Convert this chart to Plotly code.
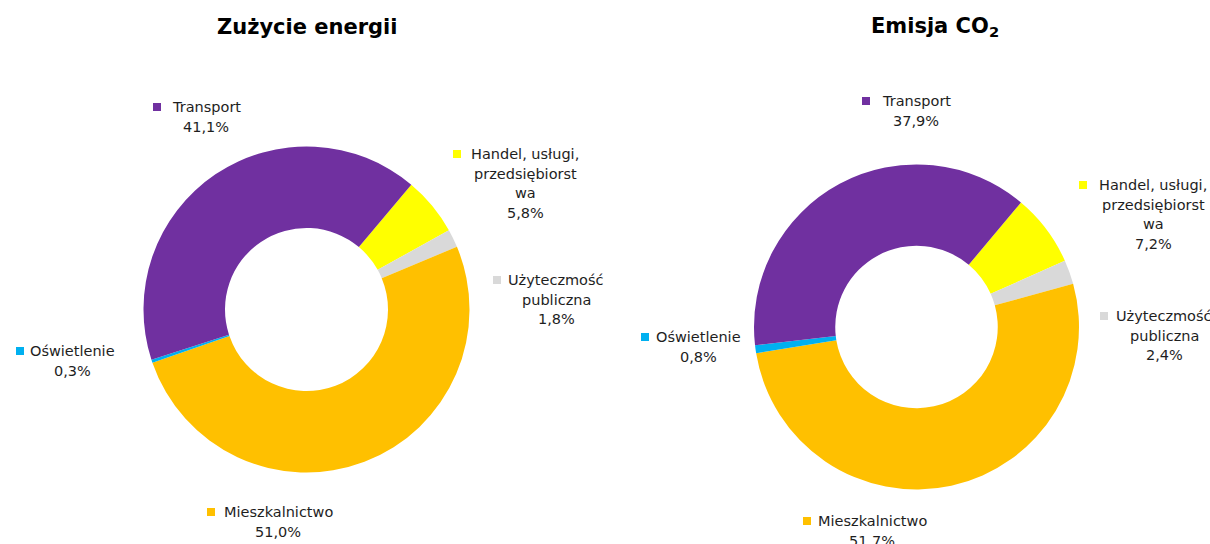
import plotly.graph_objects as go

W, H = 1210, 544

# ---- data ----
categories = ["Handel, usługi, przedsiębiorstwa", "Użyteczność publiczna",
              "Mieszkalnictwo", "Oświetlenie", "Transport"]
energy = [5.8, 1.8, 51.0, 0.3, 41.1]
co2 = [7.2, 2.4, 51.7, 0.8, 37.9]
colors = ["#FFFF00", "#D9D9D9", "#FFC000", "#00B0F0", "#7030A0"]
label_lines = [["Handel, usługi,", "przedsiębiorst", "wa"],
               ["Użyteczmość", "publiczna"],
               ["Mieszkalnictwo"],
               ["Oświetlenie"],
               ["Transport"]]
titles = ["Zużycie energii", "Emisja CO<sub>2</sub>"]

# ---- layout (pixels) ----
pies = [
    dict(values=energy, cx=306.5, cy=309.5, r=163, title_xy=(308, 27),
         text_pos=[(525, 154), (556, 280), (278, 512), (72, 351), (206, 107)],
         key_x=[457, 497, 211, 20, 157]),
    dict(values=co2, cx=916.5, cy=327, r=162.5, title_xy=(935, 27),
         text_pos=[(1153, 185), (1164, 316), (872, 521), (698, 337), (916, 101)],
         key_x=[1083, 1104, 807, 645, 866]),
]
LINE_H = 19.6
FONT = "DejaVu Sans"


def px(x):
    return x / W


def py(y):
    return 1 - y / H


fig = go.Figure()
annotations = []
shapes = []
for i, p in enumerate(pies):
    fig.add_trace(go.Pie(
        labels=categories, values=p["values"], sort=False,
        direction="clockwise", rotation=40, hole=0.5,
        marker=dict(colors=colors, line=dict(width=0)),
        textinfo="none", hoverinfo="label+percent", showlegend=False,
        domain=dict(x=[px(p["cx"] - p["r"]), px(p["cx"] + p["r"])],
                    y=[py(p["cy"] + p["r"]), py(p["cy"] - p["r"])]),
    ))
    tx, ty = p["title_xy"]
    annotations.append(dict(text=f"<b>{titles[i]}</b>", x=px(tx), y=py(ty),
                            xref="paper", yref="paper", xanchor="center",
                            yanchor="middle", showarrow=False,
                            font=dict(family=FONT, size=21, color="#000000")))
    for j, lines in enumerate(label_lines):
        pct = f"{p['values'][j]:.1f}".replace(".", ",") + "%"
        all_lines = lines + [pct]
        cx, cy = p["text_pos"][j]
        for k, line in enumerate(all_lines):
            annotations.append(dict(text=line, x=px(cx), y=py(cy + k * LINE_H),
                                    xref="paper", yref="paper",
                                    xanchor="center", yanchor="middle",
                                    showarrow=False,
                                    font=dict(family=FONT, size=14.5,
                                              color="#1e1e1e")))
        kx = p["key_x"][j]
        shapes.append(dict(type="rect", xref="paper", yref="paper",
                           x0=px(kx - 4), x1=px(kx + 4),
                           y0=py(cy - 4), y1=py(cy + 4),
                           fillcolor=colors[j], line=dict(width=0)))

fig.update_layout(width=W, height=H, margin=dict(l=0, r=0, t=0, b=0),
                  paper_bgcolor="white", plot_bgcolor="white",
                  annotations=annotations, shapes=shapes)
fig.write_html("out.html",
               config={"displayModeBar": False},
               post_script="document.body.style.margin='0';"
                           "document.body.style.overflow='hidden';")
